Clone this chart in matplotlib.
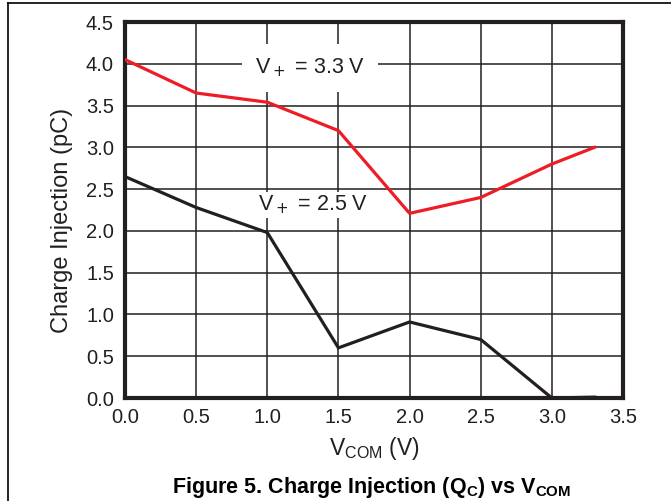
import matplotlib
matplotlib.use('Agg')
import matplotlib.pyplot as plt
from matplotlib.lines import Line2D

plt.rcParams['font.family'] = ['Liberation Sans', 'DejaVu Sans']

v_com = [0.0, 0.5, 1.0, 1.5, 2.0, 2.5, 3.0, 3.3]
q_33 = [4.05, 3.65, 3.54, 3.20, 2.21, 2.40, 2.80, 3.00]
q_25 = [2.65, 2.28, 1.98, 0.60, 0.91, 0.70, 0.00, 0.01]

x_ticks = [0.0, 0.5, 1.0, 1.5, 2.0, 2.5, 3.0, 3.5]
y_ticks = [0.0, 0.5, 1.0, 1.5, 2.0, 2.5, 3.0, 3.5, 4.0, 4.5]

ink = '#231f20'

fig = plt.figure(figsize=(6.71, 5.01), dpi=100)
ax = fig.add_axes([125/671, 1 - 398/501, (623-125)/671, (398-22)/501])

ax.plot(v_com, q_33, color='#ee1c25', lw=2.3, zorder=3)
ax.plot(v_com, q_25, color=ink, lw=2.3, zorder=3)

ax.set_xlim(0, 3.5)
ax.set_ylim(0, 4.5)
ax.set_xticks(x_ticks)
ax.set_yticks(y_ticks)
ax.set_xticklabels(['%.1f' % t for t in x_ticks])
ax.set_yticklabels(['%.1f' % t for t in y_ticks])
ax.tick_params(length=0, labelsize=14.5, colors=ink)
ax.tick_params(axis='y', pad=8)
ax.tick_params(axis='x', pad=7)
ax.grid(True, color=ink, lw=1.1)
ax.set_axisbelow(True)
for s in ax.spines.values():
    s.set_linewidth(3)
    s.set_color(ink)

ax.text(1.30, 3.95, r'V$_+$ = 3.3 V', fontsize=15.5, ha='center', va='center',
        color=ink, bbox=dict(facecolor='white', edgecolor='none', pad=9), zorder=4)
ax.text(1.32, 2.31, r'V$_+$ = 2.5 V', fontsize=15.5, ha='center', va='center',
        color=ink, bbox=dict(facecolor='white', edgecolor='none', pad=1.5), zorder=4)

ax.set_xlabel(r'V$_{\mathregular{COM}}$ (V)', fontsize=16.5, color=ink, labelpad=6)
ax.set_ylabel('Charge Injection (pC)', fontsize=17, color=ink)
ax.yaxis.set_label_coords(-0.105, 0.473)

fig.text(372/671, 1 - 487/501, r'Figure 5. Charge Injection (Q$_\mathregular{C}$) vs V$_\mathregular{COM}$',
         fontsize=15.5, fontweight='bold', ha='center', va='center')

# page frame
fig.add_artist(Line2D([8/671, 1], [1 - 3/501, 1 - 3/501], color='black', lw=1.2))
fig.add_artist(Line2D([8/671, 8/671], [0, 1 - 3/501], color='black', lw=1.2))

fig.savefig('out.png', dpi=100)
